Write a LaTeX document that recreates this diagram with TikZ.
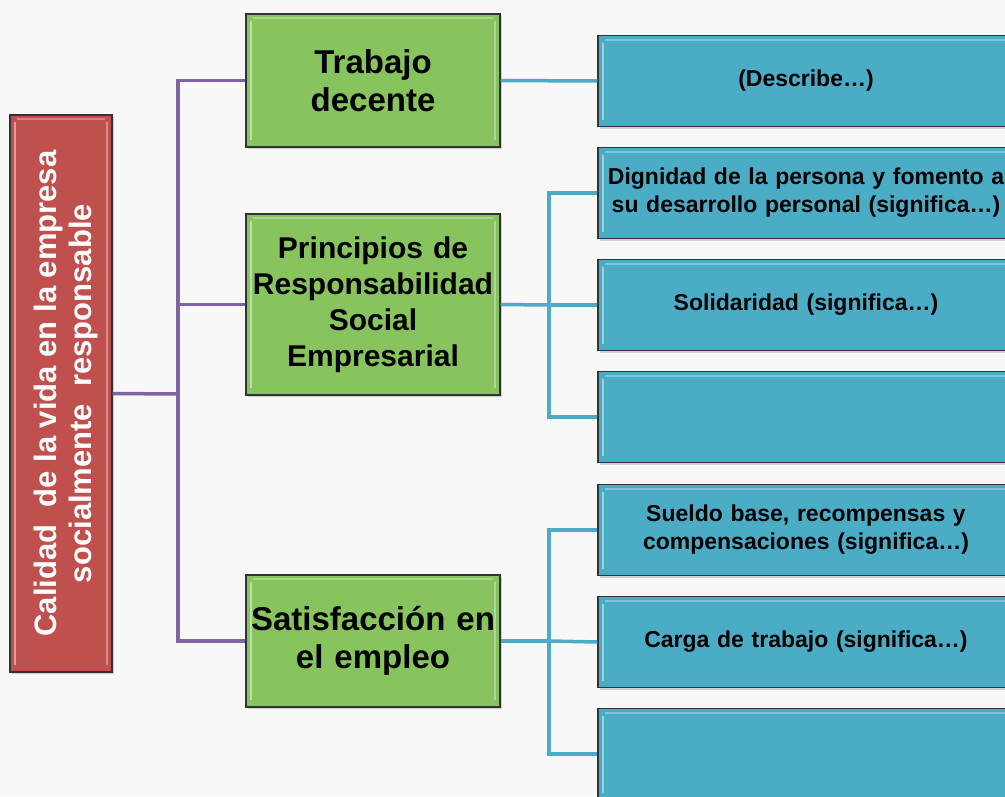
\documentclass[tikz,border=0pt]{standalone}
\usepackage{fontspec}
\setmainfont{Liberation Sans}
\usetikzlibrary{shadows}
\definecolor{rootred}{HTML}{C0504D}
\definecolor{leafgreen}{HTML}{88C45E}
\definecolor{itemblue}{HTML}{4BACC6}
\definecolor{linepurple}{HTML}{8064A2}
\definecolor{lineteal}{HTML}{4BACC6}
\definecolor{bgcol}{HTML}{F8F8F8}
\begin{document}
\begin{tikzpicture}[
              x=1pt, y=-1pt,
              bevel/.style={path picture={
                \draw[white,opacity=0.45,line width=2.5pt]
                  ([xshift=5pt,yshift=-7pt]path picture bounding box.north west) --
                  ([xshift=5pt,yshift=7pt]path picture bounding box.south west);
                \draw[white,opacity=0.35,line width=2.5pt]
                  ([xshift=-5pt,yshift=-7pt]path picture bounding box.north east) --
                  ([xshift=-5pt,yshift=7pt]path picture bounding box.south east);
                \draw[white,opacity=0.3,line width=2pt]
                  ([xshift=7pt,yshift=-4pt]path picture bounding box.north west) --
                  ([xshift=-7pt,yshift=-4pt]path picture bounding box.north east);}},
              box/.style={draw=black!80,line width=1.2pt,bevel,
                drop shadow={shadow xshift=2pt,shadow yshift=-2pt,opacity=0.35}},
              rootbox/.style={box,fill=rootred,text=white,font=\bfseries\fontsize{31}{35}\selectfont,
                minimum width=102,minimum height=557,inner sep=0pt},
              topicbox/.style={box,fill=leafgreen,font=\bfseries\fontsize{33}{38}\selectfont,
                text width=250,inner xsep=2,minimum height=133,align=center},
              itembox/.style={box,fill=itemblue,font=\bfseries\fontsize{23}{28}\selectfont,
                text width=412,inner xsep=2,minimum height=91,align=center},
              purpleline/.style={linepurple,line width=3.5pt},
              tealline/.style={lineteal,line width=3.5pt}
            ]
            \clip (0,0) rectangle (1005,796);
            \fill[bgcol] (0,0) rectangle (1005,796);

            % Root
            \node[rootbox] (root) at (61,393.5) {\hspace*{12pt}\rotatebox{90}{\begin{tabular}{@{}c@{}}Calidad\ \ de la vida en la empresa\\ socialmente\ \ responsable\end{tabular}}};

            % Topics
            \node[topicbox] (trabajo) at (373,80.5) {Trabajo\\decente};
            \node[topicbox,minimum height=181,font=\bfseries\fontsize{30}{36}\selectfont] (principios) at (373,304.5) {Principios de\\Responsabilidad\\Social\\Empresarial};
            \node[topicbox,minimum height=132] (satisf) at (373,641) {Satisfacción en\\el empleo};

            % Items
            \node[itembox] (desc) at (806,81) {(Describe…)};
            \node[itembox] (dignidad) at (806,193) {Dignidad de la persona y fomento a\\su desarrollo personal (significa…)};
            \node[itembox] (solidaridad) at (806,305) {Solidaridad (significa…)};
            \node[itembox] (blankp) at (806,417) {};
            \node[itembox] (sueldo) at (806,530) {Sueldo base, recompensas y\\compensaciones (significa…)};
            \node[itembox] (carga) at (806,642) {Carga de trabajo (significa…)};
            \node[itembox] (blanks) at (806,754) {};

            % Root to topics
            \coordinate (jroot) at (178,394);
            \draw[purpleline] (root.east) -- (jroot);
            \draw[purpleline] (trabajo.west) -| (jroot) |- (satisf.west);
            \draw[purpleline] (jroot |- principios.west) -- (principios.west);

            % Topics to items
            \draw[tealline] (trabajo.east) -- (desc.west);

            \coordinate (jprin) at (549,305);
            \draw[tealline] (principios.east) -- (jprin);
            \draw[tealline] (dignidad.west) -| (jprin) |- (blankp.west);
            \draw[tealline] (jprin) -- (solidaridad.west);

            \coordinate (jsat) at (549,641);
            \draw[tealline] (satisf.east) -- (jsat);
            \draw[tealline] (sueldo.west) -| (jsat) |- (blanks.west);
            \draw[tealline] (jsat) -- (carga.west);

            \end{tikzpicture}
\end{document}
